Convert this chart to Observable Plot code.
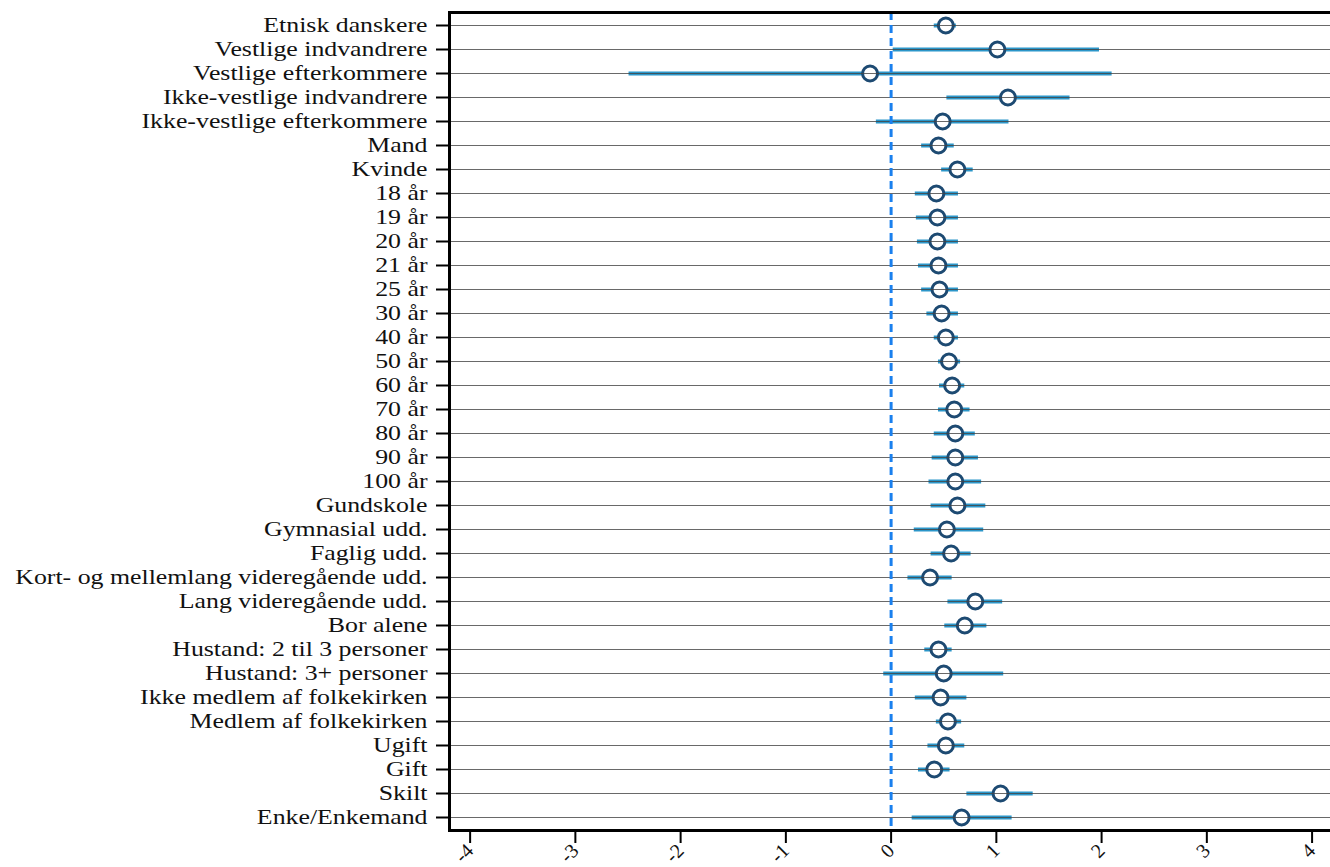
<!DOCTYPE html>
<html><head><meta charset="utf-8">
<script src="https://cdn.jsdelivr.net/npm/d3@7"></script>
<script src="https://cdn.jsdelivr.net/npm/@observablehq/plot@0.6"></script>
<style>body{margin:0;background:#fff} svg{display:block}</style>
</head><body><div id="chart"></div>
<script>
const labels = [
  "Etnisk danskere","Vestlige indvandrere","Vestlige efterkommere","Ikke-vestlige indvandrere",
  "Ikke-vestlige efterkommere","Mand","Kvinde","18 år","19 år","20 år","21 år","25 år","30 år",
  "40 år","50 år","60 år","70 år","80 år","90 år","100 år","Gundskole","Gymnasial udd.",
  "Faglig udd.","Kort- og mellemlang videregående udd.","Lang videregående udd.","Bor alene",
  "Hustand: 2 til 3 personer","Hustand: 3+ personer","Ikke medlem af folkekirken",
  "Medlem af folkekirken","Ugift","Gift","Skilt","Enke/Enkemand"
];
const estimate = [0.52,1.01,-0.20,1.11,0.49,0.45,0.63,0.43,0.44,0.44,0.45,0.46,0.48,0.52,0.55,0.58,0.60,0.61,0.61,0.61,0.63,0.53,0.57,0.37,0.80,0.70,0.45,0.50,0.47,0.54,0.52,0.41,1.04,0.67];
const ciLow    = [0.41,0.02,-2.49,0.53,-0.14,0.29,0.48,0.23,0.24,0.25,0.26,0.29,0.34,0.41,0.45,0.46,0.45,0.41,0.39,0.36,0.38,0.22,0.38,0.16,0.54,0.51,0.32,-0.07,0.23,0.43,0.35,0.26,0.72,0.20];
const ciHigh   = [0.62,1.98,2.10,1.70,1.12,0.60,0.78,0.64,0.64,0.64,0.64,0.64,0.64,0.64,0.66,0.70,0.75,0.80,0.83,0.86,0.90,0.88,0.76,0.58,1.06,0.91,0.58,1.07,0.72,0.67,0.70,0.56,1.35,1.15];
const xTicks = [-4,-3,-2,-1,0,1,2,3,4];

const data = labels.map((label, i) => ({label, est: estimate[i], lo: ciLow[i], hi: ciHigh[i]}));
const serif = '"Liberation Serif","Times New Roman",serif';

const chart = Plot.plot({
  width: 1330, height: 867,
  marginLeft: 449, marginRight: -2, marginTop: 12, marginBottom: 37,
  style: {fontFamily: serif, background: "#fff", color: "#111", overflow: "visible"},
  x: {domain: [-4.196, 4.194], label: null},
  y: {domain: labels, padding: 0.45, label: null},
  marks: [
    Plot.ruleY(data, {y: "label", x1: "lo", x2: "hi", stroke: "#2b96c9", strokeWidth: 4}),
    Plot.dot(data, {x: "est", y: "label", r: 7.5, stroke: "#1d4a72", strokeWidth: 3, fill: "white"}),
    Plot.gridY({stroke: "#444", strokeOpacity: 0.8, strokeWidth: 1}),
    Plot.ruleX([0], {stroke: "#1a80ee", strokeWidth: 3, strokeDasharray: "8,5"}),
    Plot.frame({stroke: "black", strokeWidth: 3}),
    Plot.axisY({tickSize: 13, tickPadding: 9, fontSize: 21.7, strokeWidth: 2, stroke: "black"}),
    Plot.axisX({ticks: xTicks, tickSize: 13, tickPadding: 4, tickRotate: -45, fontSize: 20,
      strokeWidth: 2, stroke: "black", tickFormat: d => String(d)})
  ]
});
// widen the serif labels horizontally (the reference type is set wide), anchored at their right end
d3.select(chart).selectAll('g[aria-label="y-axis tick label"] text').each(function() {
  const t = d3.select(this);
  const xs = parseFloat(t.attr("x"));
  const x = isFinite(xs) ? xs : 0;
  const tr = t.attr("transform") || "";
  t.attr("transform", `${tr} translate(${x},0) scale(1.19,1) translate(${-x},0)`);
});
document.getElementById("chart").appendChild(chart);
</script>
</body></html>
